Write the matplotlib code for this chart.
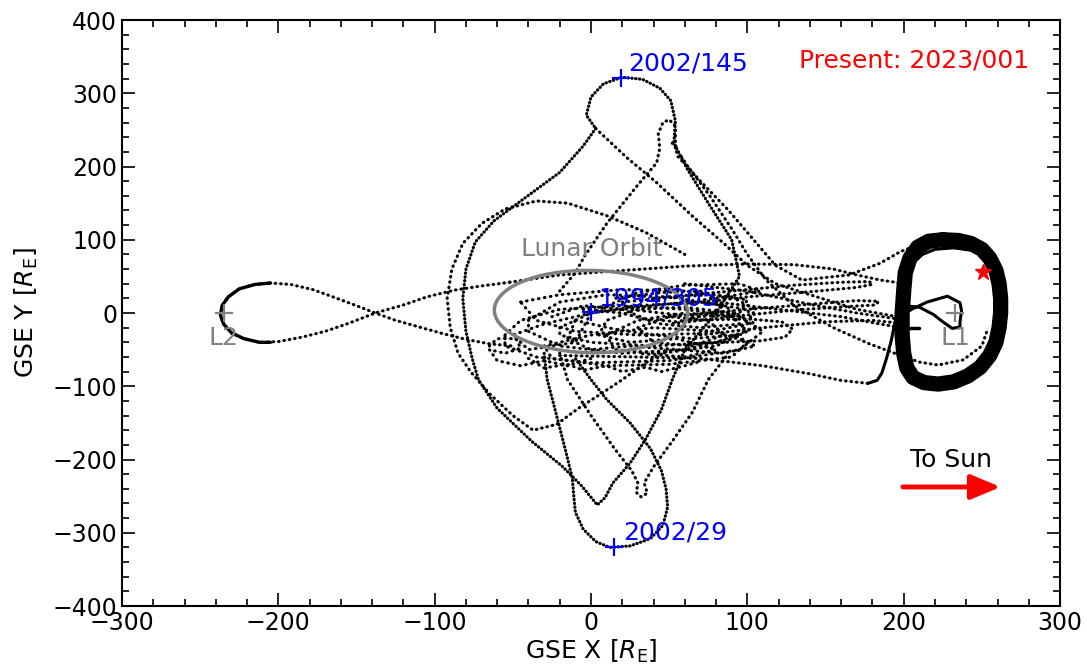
import numpy as np
import matplotlib
matplotlib.use('Agg')
import matplotlib.pyplot as plt
from matplotlib.patches import Ellipse
from matplotlib.ticker import MultipleLocator

# trajectory waypoints, GSE X / Y in Earth radii
l2_excursion = [(-52, 42), (-70, 37), (-88, 31), (-105, 22), (-120, 11), (-138, 0),
                (-155, -14), (-170, -25), (-185, -33), (-200, -39), (-212, -40),
                (-222, -35), (-230, -27), (-235, -15), (-237, -3), (-236, 10),
                (-232, 22), (-225, 33), (-215, 39), (-205, 41), (-192, 39), (-178, 32),
                (-165, 22), (-150, 10), (-138, 0), (-125, -10), (-110, -19), (-95, -28),
                (-80, -36), (-65, -42), (-50, -45)]
l2_tip = [(-205, -40), (-212, -40), (-222, -35), (-230, -27), (-235, -15), (-237, -3),
          (-236, 10), (-232, 22), (-225, 33), (-215, 39), (-205, 41)]

# big figure: top cusp -> left side -> bottom cusp -> back up right side -> top circle
big_loop = [(3, 252), (-5, 228), (-20, 192), (-43, 156), (-62, 126), (-74, 97), (-80, 60),
            (-82, 20), (-80, -25), (-76, -62), (-72, -91), (-60, -130), (-38, -175),
            (-18, -210), (-6, -236), (4, -262), (9, -252), (14, -232), (25, -205),
            (35, -172), (45, -132), (52, -91), (60, -50), (80, 0), (95, 50), (90, 100),
            (75, 150), (62, 195), (53, 232), (54, 262), (51, 290), (44, 307), (33, 319),
            (20, 322), (8, 313), (0, 295), (-3, 270), (3, 252)]
top_v_right = [(3, 252), (10, 238), (23, 212), (42, 178), (65, 132), (85, 95), (100, 65),
               (118, 40), (140, 25), (170, 5), (196, -5)]
top_small_loop = [(-20, 30), (-10, 55), (-4, 78), (10, 122), (30, 175), (42, 205),
                  (44, 225), (43, 245), (46, 260), (50, 264), (54, 255), (54, 235),
                  (55, 215), (70, 180), (88, 140), (104, 100), (118, 65), (135, 45),
                  (165, 52), (185, 68), (198, 84), (212, 95)]
right_strand = [(52, 232), (62, 200), (76, 160), (90, 115), (100, 80), (112, 45),
                (130, 10), (155, -20), (178, -42), (198, -58), (210, -67), (222, -71),
                (238, -64), (250, -45), (254, -20)]

low_loop = [(-30, -55), (-28, -91), (-22, -140), (-16, -190), (-12, -225), (-11, -250),
            (-10, -272), (-5, -295), (3, -312), (12, -320), (25, -318), (38, -308),
            (46, -290), (49, -265), (48, -240), (45, -215), (38, -185), (25, -150),
            (10, -118), (0, -91), (-10, -62)]
low_small_loop = [(-20, -55), (-15, -91), (0, -140), (15, -185), (26, -215), (30, -232),
                  (29, -245), (32, -251), (36, -246), (34, -232), (40, -210), (52, -175),
                  (65, -135), (75, -91), (88, -55)]
left_arc = [(60, 80), (35, 110), (10, 133), (-15, 150), (-35, 153), (-55, 142), (-70, 122),
            (-82, 95), (-89, 60), (-92, 20), (-90, -20), (-85, -55), (-77, -80), (-65, -110),
            (-50, -140), (-37, -160), (-22, -152), (-8, -130), (8, -108), (20, -91),
            (35, -68), (50, -50)]

# near-Earth petals
petal_a = [(-40, -10), (-20, 15), (10, 25), (50, 22), (85, 10), (100, -10), (90, -35),
           (60, -50), (20, -55), (-20, -45), (-40, -25), (-40, -10)]
petal_b = [(-55, -30), (-45, -10), (-20, 5), (20, 10), (60, 5), (95, -5), (110, -25),
           (95, -50), (50, -65), (0, -68), (-35, -60), (-55, -45), (-55, -30)]
petal_c = [(-20, -20), (0, 0), (30, 10), (70, 15), (100, 5), (105, -20), (80, -40),
           (40, -45), (0, -40), (-20, -30), (-20, -20)]
petal_d = [(-65, -45), (-60, -35), (-48, -35), (-45, -48), (-55, -55), (-65, -50),
           (-60, -65), (-45, -72), (-30, -65), (-15, -72), (0, -62)]
petal_e = [(10, -30), (30, -10), (60, 0), (90, -5), (100, -25), (80, -45), (45, -55),
           (15, -50), (10, -30)]
petal_f = [(30, -20), (50, -5), (75, -10), (85, -30), (65, -45), (40, -40), (30, -20)]
petal_g = [(0, 0), (30, 28), (60, 38), (95, 40), (108, 30), (80, 20), (40, 10), (0, 0),
           (-30, -15), (-50, -30), (-40, -50), (-10, -40), (0, 0)]
petal_h = [(-45, 15), (-20, 25), (20, 32), (60, 30), (90, 22), (105, 5), (100, -15),
           (70, -28), (30, -30), (-10, -25), (-35, -10), (-45, 15)]
petal_i = [(-30, -45), (0, -30), (40, -20), (80, -25), (100, -40), (90, -60), (50, -70),
           (10, -72), (-25, -62), (-30, -45)]
petal_j = [(-5, 5), (20, 0), (45, -15), (70, -20), (95, -15), (90, 0), (60, 8), (30, 5),
           (10, -10), (5, -30), (25, -40), (55, -35), (80, -50), (60, -60), (30, -55)]
petal_k = [(-10, -10), (15, -22), (40, -30), (65, -35), (92, -30), (105, -45), (85, -55),
           (55, -50), (25, -45), (0, -50), (-15, -35), (-10, -10)]
petal_l = [(20, 15), (45, 20), (75, 25), (100, 18), (95, 0), (70, -5), (45, 0), (25, 5),
           (20, 15)]
petal_m = [(-25, -5), (-5, 10), (20, 5), (35, -8), (55, -12), (75, -2), (85, 10), (70, 30),
           (45, 28), (15, 20)]
petal_n = [(-40, -62), (-30, -75), (-15, -70), (-5, -78), (10, -72), (20, -80), (35, -74),
           (45, -80), (60, -72), (70, -66)]

# strands toward L1
upper_band = [(-52, 42), (-20, 52), (20, 58), (60, 64), (100, 67), (130, 66), (155, 60),
              (170, 52), (185, 45), (198, 41)]
hairpin_1 = [(40, 20), (90, 30), (130, 38), (160, 42), (178, 43), (180, 39), (170, 35),
             (140, 29), (100, 22), (60, 12)]
hairpin_2 = [(50, -5), (100, 5), (140, 12), (170, 17), (184, 16), (182, 11), (165, 9),
             (130, 4), (90, -5), (50, -15)]
hairpin_3 = [(60, -10), (100, -8), (122, -12), (129, -22), (124, -33), (108, -38),
             (85, -40), (60, -42)]
lower_band = [(-20, -58), (30, -60), (70, -62), (110, -72), (140, -83), (160, -92),
              (177, -96)]
lower_band_rise = [(177, -96), (183, -92), (186, -82), (189, -62), (192, -38), (196, 4)]
converge_1 = [(60, 40), (100, 30), (140, 12), (170, 0), (196, -8)]
converge_2 = [(70, -30), (110, -20), (150, -12), (180, -10), (198, -14)]
converge_3 = [(80, 15), (120, 5), (160, -5), (185, -15), (198, -20)]

halo_orbit = [(225, 100), (235, 99), (243, 95), (250, 87), (255, 75), (259, 58), (261, 40),
              (262, 20), (262, 0), (261, -20), (259, -40), (255, -58), (249, -74),
              (241, -86), (232, -94), (222, -97), (213, -95), (206, -88), (202, -75),
              (200, -55), (199, -30), (199, 0), (200, 30), (201, 55), (204, 75), (209, 90),
              (216, 98), (225, 100)]
halo_inner_top = [(198, 41), (202, 52), (206, 68), (212, 80), (220, 87), (232, 89),
                  (242, 86)]
halo_knot = [(196, -8), (205, 5), (215, 15), (228, 23), (236, 14), (237, 3), (236, -12),
             (236, -19), (231, -21), (225, -12), (219, -2), (210, 8), (200, 10)]
halo_stub = [(202, -20), (210, -20)]

lunar_radius_x = 124
lunar_radius_y = 112
lunar_tilt = -10

marks = {'1994/305': (0, 1), '2002/145': (19, 321), '2002/29': (15, -319)}
lagrange = {'L1': (233, 0), 'L2': (-235, 0)}
present = (251, 56)


def dotted(ax, pts, gap=1.6):
    x, y = np.array(pts).T
    ax.plot(x, y, color='0.82', lw=0.7, zorder=1)
    ax.plot(x, y, color='k', lw=2.3, ls=(0, (0.1, gap)), dash_capstyle='round', zorder=2)


def solid(ax, pts, lw=2.0):
    x, y = np.array(pts).T
    ax.plot(x, y, color='k', lw=lw, solid_capstyle='round', solid_joinstyle='round', zorder=2)


fig, ax = plt.subplots(figsize=(10.87, 6.68), dpi=100)
fig.subplots_adjust(left=0.1122, right=0.9752, bottom=0.0928, top=0.970)

for seg in [petal_a, petal_b, petal_c, petal_d, petal_e, petal_f, petal_g, petal_h, petal_i,
            petal_j, petal_k, petal_l, petal_m, petal_n]:
    dotted(ax, seg, gap=1.8)
for seg in [l2_excursion, top_v_right, top_small_loop, right_strand, low_small_loop,
            left_arc, upper_band, hairpin_1, hairpin_2, hairpin_3, lower_band,
            converge_1, converge_2, converge_3]:
    dotted(ax, seg)
for seg in [big_loop, low_loop]:
    dotted(ax, seg, gap=1.1)

solid(ax, l2_tip, lw=2.4)
solid(ax, lower_band_rise, lw=2.2)
solid(ax, halo_inner_top, lw=2.2)
solid(ax, halo_knot, lw=2.2)
solid(ax, halo_stub, lw=2.5)
solid(ax, halo_orbit, lw=11)

ax.add_patch(Ellipse((0, 2), lunar_radius_x, lunar_radius_y, angle=lunar_tilt,
                     fill=False, edgecolor='0.5', lw=2.5, zorder=3))
ax.text(-45, 87, 'Lunar Orbit', color='0.5', fontsize=18, va='center', zorder=4)

for name, (x, y) in marks.items():
    ax.plot(x, y, '+', color='blue', ms=13, mew=1.6, zorder=5)
ax.text(4.5, 20, '1994/305', color='blue', fontsize=18, va='center', zorder=5)
ax.text(24, 341, '2002/145', color='blue', fontsize=18, va='center', zorder=5)
ax.text(20.5, -300, '2002/29', color='blue', fontsize=18, va='center', zorder=5)

for name, (x, y) in lagrange.items():
    ax.plot(x, y, '+', color='0.5', ms=13, mew=1.6, zorder=5)
    ax.text(x, y - 34, name, color='0.5', fontsize=18, ha='center', va='center', zorder=5)

ax.plot(*present, '*', color='red', ms=12, zorder=6)
ax.text(280, 345, 'Present: 2023/001', color='red', fontsize=18, ha='right', va='center')

ax.text(230, -201, 'To Sun', fontsize=18, ha='center', va='center')
ax.annotate('', xy=(262, -237.5), xytext=(199.5, -237.5),
            arrowprops=dict(arrowstyle='-|>,head_length=0.6,head_width=0.25',
                            color='red', lw=3.5, mutation_scale=30,
                            shrinkA=0, shrinkB=0))

ax.set_xlim(-300, 300)
ax.set_ylim(-400, 400)
ax.xaxis.set_major_locator(MultipleLocator(100))
ax.xaxis.set_minor_locator(MultipleLocator(20))
ax.yaxis.set_major_locator(MultipleLocator(100))
ax.yaxis.set_minor_locator(MultipleLocator(20))
ax.tick_params(which='both', direction='in', top=True, right=True, labelsize=17)
ax.tick_params(which='major', length=9.5, width=1.2)
ax.tick_params(which='minor', length=5, width=1.2)
for s in ax.spines.values():
    s.set_linewidth(1.5)

ax.set_xlabel(r'GSE X [$R_\mathrm{E}$]', fontsize=18, labelpad=2)
ax.set_ylabel(r'GSE Y [$R_\mathrm{E}$]', fontsize=18, labelpad=9)

fig.savefig('out.png', dpi=100)
